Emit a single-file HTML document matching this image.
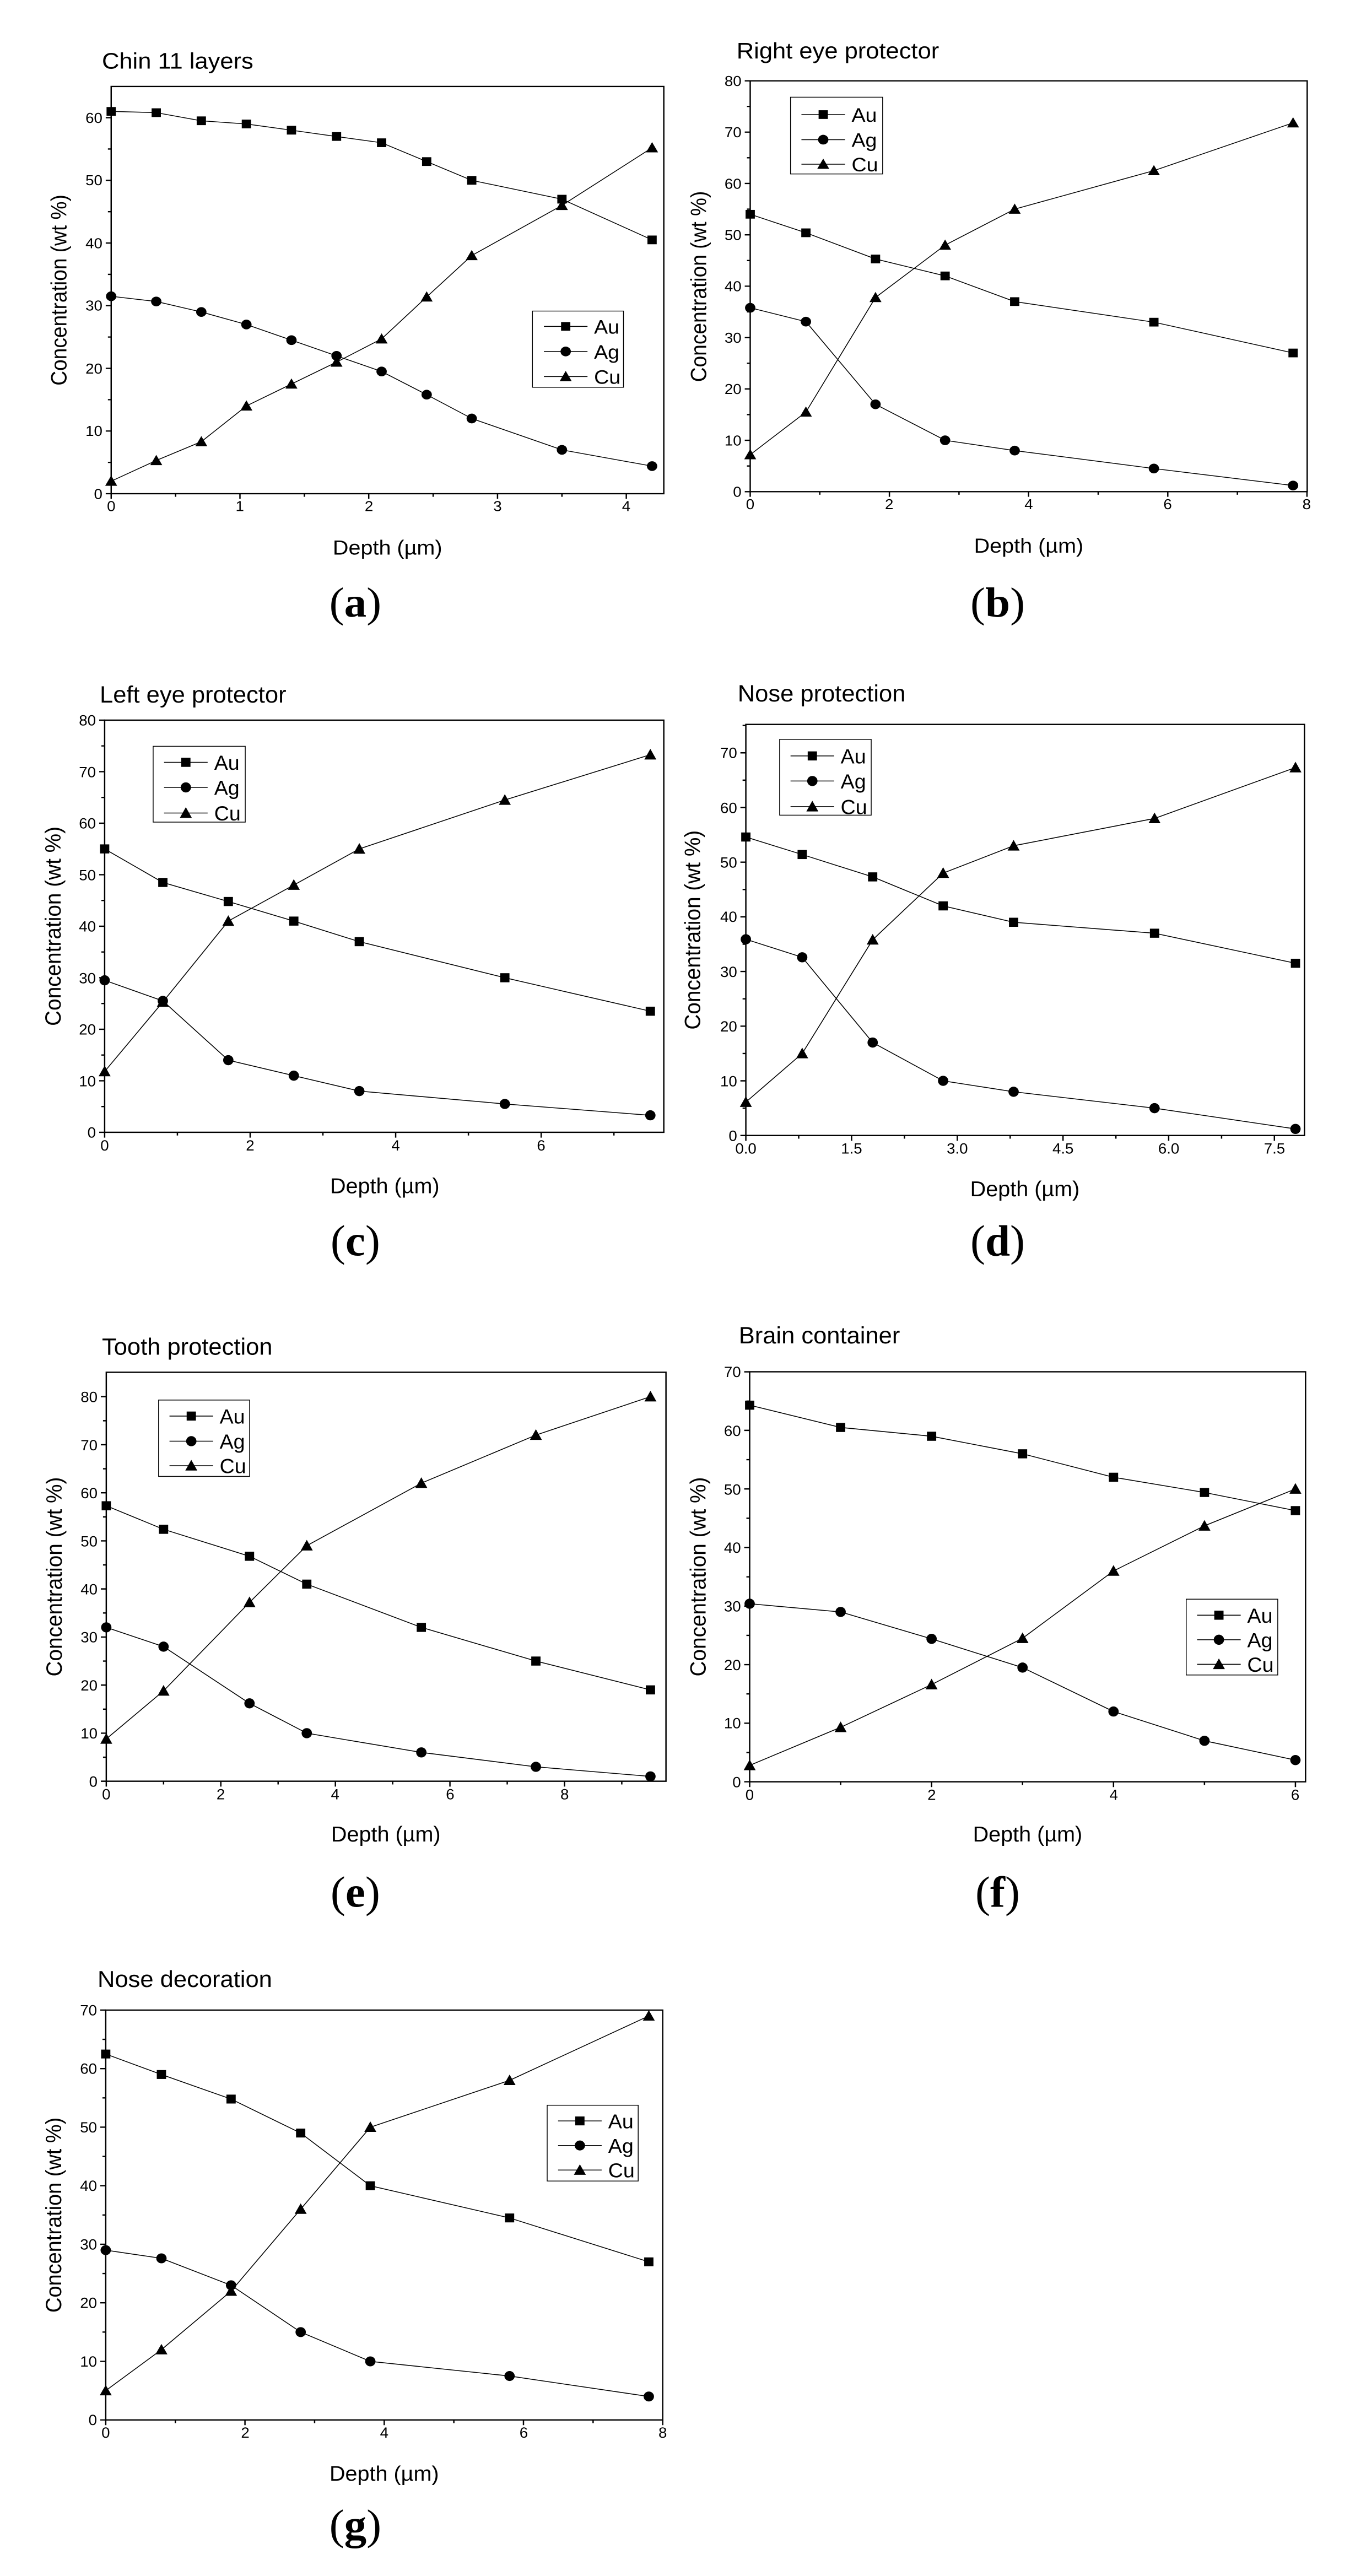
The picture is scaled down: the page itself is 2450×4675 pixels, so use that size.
<!DOCTYPE html>
<html><head><meta charset="utf-8"><style>
html,body{margin:0;padding:0;background:#fff}
svg{display:block}
text{font-family:"Liberation Sans",sans-serif;fill:#000}
.tk{font-size:28px}
.ax{font-size:40px}
.tt{font-size:44px}
.lg{font-size:38px}
.sl{font-family:"Liberation Serif",serif;font-size:82px}
.fr{fill:none;stroke:#000;stroke-width:2.5}
.tks{fill:none;stroke:#000;stroke-width:2.5}
.ln{fill:none;stroke:#000;stroke-width:1.6}
</style></head><body>
<svg width="2450" height="4675" viewBox="0 0 2450 4675" xmlns="http://www.w3.org/2000/svg">
<defs>
<rect id="s" x="-8.5" y="-8.5" width="17" height="17" fill="#000"/>
<circle id="c" r="9.5" fill="#000"/>
<polygon id="t" points="0,-11 11,9 -11,9" fill="#000"/>
</defs>

<!-- ===== Panel a ===== -->
<g transform="translate(0,0) scale(0.98906,0.92849) translate(0,0)">
<text class="tt" x="187" y="134">Chin 11 layers</text>
<rect class="fr" x="204" y="169" width="1014" height="796"/>
<path class="tks" d="M204 965h-10M204 842.5h-10M204 720h-10M204 597.5h-10M204 475h-10M204 352.5h-10M204 230h-10M204 903.75h-6M204 781.25h-6M204 658.75h-6M204 536.25h-6M204 413.75h-6M204 291.25h-6M204 965v10M440.3 965v10M676.6 965v10M912.9 965v10M1149.2 965v10M322.2 965v6M558.5 965v6M794.8 965v6M1031.1 965v6"/>
<g class="tk" text-anchor="end"><text x="188" y="975">0</text><text x="188" y="852">10</text><text x="188" y="730">20</text><text x="188" y="607">30</text><text x="188" y="485">40</text><text x="188" y="362">50</text><text x="188" y="240">60</text></g>
<g class="tk" text-anchor="middle"><text x="204" y="999">0</text><text x="440" y="999">1</text><text x="677" y="999">2</text><text x="913" y="999">3</text><text x="1149" y="999">4</text></g>
<text class="ax" text-anchor="middle" x="711" y="1084">Depth (µm)</text>
<text class="ax" text-anchor="middle" transform="translate(122,567) rotate(-90)">Concentration (wt %)</text>
<polyline class="ln" points="204,217.7 286.7,220.2 369.4,236.1 452.1,242.3 534.8,254.5 617.5,266.8 700.2,279 782.9,315.8 865.6,352.5 1031.1,389.3 1196.5,468.9"/>
<polyline class="ln" points="204,579.1 286.7,589.3 369.4,609.8 452.1,634.3 534.8,664.9 617.5,695.5 700.2,726.1 782.9,771.4 865.6,818 1031.1,879.3 1196.5,911.1"/>
<polyline class="ln" points="204,940.5 286.7,900.1 369.4,863.3 452.1,793.5 534.8,750.6 617.5,707.8 700.2,662.4 782.9,580.4 865.6,499.5 1031.1,401.5 1196.5,288.8"/>
<use href="#s" x="204" y="217.7"/><use href="#s" x="286.7" y="220.2"/><use href="#s" x="369.4" y="236.1"/><use href="#s" x="452.1" y="242.3"/><use href="#s" x="534.8" y="254.5"/><use href="#s" x="617.5" y="266.8"/><use href="#s" x="700.2" y="279"/><use href="#s" x="782.9" y="315.8"/><use href="#s" x="865.6" y="352.5"/><use href="#s" x="1031.1" y="389.3"/><use href="#s" x="1196.5" y="468.9"/>
<use href="#c" x="204" y="579.1"/><use href="#c" x="286.7" y="589.3"/><use href="#c" x="369.4" y="609.8"/><use href="#c" x="452.1" y="634.3"/><use href="#c" x="534.8" y="664.9"/><use href="#c" x="617.5" y="695.5"/><use href="#c" x="700.2" y="726.1"/><use href="#c" x="782.9" y="771.4"/><use href="#c" x="865.6" y="818"/><use href="#c" x="1031.1" y="879.3"/><use href="#c" x="1196.5" y="911.1"/>
<use href="#t" x="204" y="940.5"/><use href="#t" x="286.7" y="900.1"/><use href="#t" x="369.4" y="863.3"/><use href="#t" x="452.1" y="793.5"/><use href="#t" x="534.8" y="750.6"/><use href="#t" x="617.5" y="707.8"/><use href="#t" x="700.2" y="662.4"/><use href="#t" x="782.9" y="580.4"/><use href="#t" x="865.6" y="499.5"/><use href="#t" x="1031.1" y="401.5"/><use href="#t" x="1196.5" y="288.8"/>
<rect x="977" y="608" width="167" height="149" fill="#fff" stroke="#000" stroke-width="1.5"/>
<path class="ln" d="M998 638h80M998 687h80M998 736h80"/>
<use href="#s" x="1038" y="638"/><use href="#c" x="1038" y="687"/><use href="#t" x="1038" y="736"/>
<g class="lg"><text x="1090" y="652">Au</text><text x="1090" y="701">Ag</text><text x="1090" y="750">Cu</text></g>
<text class="sl" text-anchor="middle" x="652" y="1205">(<tspan font-weight="bold">a</tspan>)</text>
</g>

<!-- ===== Panel b ===== -->
<g transform="translate(1225,0) scale(0.98906,0.92849) translate(-1225,0)">
<text class="tt" x="1338" y="114">Right eye protector</text>
<rect class="fr" x="1363" y="158" width="1022" height="803"/>
<path class="tks" d="M1363 961h-10M1363 860.6h-10M1363 760.2h-10M1363 659.8h-10M1363 559.4h-10M1363 459h-10M1363 358.6h-10M1363 258.2h-10M1363 158h-10M1363 910.8h-6M1363 810.4h-6M1363 710h-6M1363 609.6h-6M1363 509.2h-6M1363 408.8h-6M1363 308.4h-6M1363 208h-6M1363 961v10M1618.4 961v10M1873.8 961v10M2129.2 961v10M2384.6 961v10M1490.7 961v6M1746.1 961v6M2001.5 961v6M2256.9 961v6"/>
<g class="tk" text-anchor="end"><text x="1347" y="971">0</text><text x="1347" y="871">10</text><text x="1347" y="770">20</text><text x="1347" y="670">30</text><text x="1347" y="569">40</text><text x="1347" y="469">50</text><text x="1347" y="369">60</text><text x="1347" y="268">70</text><text x="1347" y="168">80</text></g>
<g class="tk" text-anchor="middle"><text x="1363" y="995">0</text><text x="1618" y="995">2</text><text x="1874" y="995">4</text><text x="2129" y="995">6</text><text x="2384" y="995">8</text></g>
<text class="ax" text-anchor="middle" x="1874" y="1080">Depth (µm)</text>
<text class="ax" text-anchor="middle" transform="translate(1282,560) rotate(-90)">Concentration (wt %)</text>
<polyline class="ln" points="1363,418.8 1465.2,455 1592.9,506.2 1720.6,539.3 1848.3,589.5 2103.7,629.7 2359.1,689.9"/>
<polyline class="ln" points="1363,601.6 1465.2,628.7 1592.9,790.3 1720.6,860.6 1848.3,880.7 2103.7,915.8 2359.1,949"/>
<polyline class="ln" points="1363,888.7 1465.2,805.4 1592.9,581.5 1720.6,479.1 1848.3,408.8 2103.7,333.5 2359.1,240.1"/>
<use href="#s" x="1363" y="418.8"/><use href="#s" x="1465.2" y="455"/><use href="#s" x="1592.9" y="506.2"/><use href="#s" x="1720.6" y="539.3"/><use href="#s" x="1848.3" y="589.5"/><use href="#s" x="2103.7" y="629.7"/><use href="#s" x="2359.1" y="689.9"/>
<use href="#c" x="1363" y="601.6"/><use href="#c" x="1465.2" y="628.7"/><use href="#c" x="1592.9" y="790.3"/><use href="#c" x="1720.6" y="860.6"/><use href="#c" x="1848.3" y="880.7"/><use href="#c" x="2103.7" y="915.8"/><use href="#c" x="2359.1" y="949"/>
<use href="#t" x="1363" y="888.7"/><use href="#t" x="1465.2" y="805.4"/><use href="#t" x="1592.9" y="581.5"/><use href="#t" x="1720.6" y="479.1"/><use href="#t" x="1848.3" y="408.8"/><use href="#t" x="2103.7" y="333.5"/><use href="#t" x="2359.1" y="240.1"/>
<rect x="1437" y="190" width="169" height="150" fill="#fff" stroke="#000" stroke-width="1.5"/>
<path class="ln" d="M1457 224h80M1457 273h80M1457 321h80"/>
<use href="#s" x="1497" y="224"/><use href="#c" x="1497" y="273"/><use href="#t" x="1497" y="321"/>
<g class="lg"><text x="1549" y="238">Au</text><text x="1549" y="287">Ag</text><text x="1549" y="335">Cu</text></g>
<text class="sl" text-anchor="middle" x="1817" y="1205">(<tspan font-weight="bold">b</tspan>)</text>
</g>

<!-- ===== Panel c ===== -->
<g transform="translate(0,1150) scale(0.98906,0.96886) translate(0,-1150)">
<text class="tt" x="183" y="1279">Left eye protector</text>
<rect class="fr" x="192" y="1312" width="1026" height="772"/>
<path class="tks" d="M192 2084h-10M192 1987.5h-10M192 1891h-10M192 1794.5h-10M192 1698h-10M192 1601.5h-10M192 1505h-10M192 1408.5h-10M192 1312h-10M192 2035.75h-6M192 1939.25h-6M192 1842.75h-6M192 1746.25h-6M192 1649.75h-6M192 1553.25h-6M192 1456.75h-6M192 1360.25h-6M192 2084v10M459 2084v10M726 2084v10M993 2084v10M325.5 2084v6M592.5 2084v6M859.5 2084v6M1126.5 2084v6"/>
<g class="tk" text-anchor="end"><text x="176" y="2094">0</text><text x="176" y="1998">10</text><text x="176" y="1901">20</text><text x="176" y="1805">30</text><text x="176" y="1708">40</text><text x="176" y="1612">50</text><text x="176" y="1515">60</text><text x="176" y="1419">70</text><text x="176" y="1322">80</text></g>
<g class="tk" text-anchor="middle"><text x="192" y="2118">0</text><text x="459" y="2118">2</text><text x="726" y="2118">4</text><text x="993" y="2118">6</text></g>
<text class="ax" text-anchor="middle" x="706" y="2198">Depth (µm)</text>
<text class="ax" text-anchor="middle" transform="translate(111,1698) rotate(-90)">Concentration (wt %)</text>
<polyline class="ln" points="192,1553.2 298.8,1616 418.9,1651.7 539.1,1688.4 659.3,1726.9 926.3,1794.5 1193.3,1857.2"/>
<polyline class="ln" points="192,1799.3 298.8,1837.9 418.9,1948.9 539.1,1977.9 659.3,2006.8 926.3,2030.9 1193.3,2052.2"/>
<polyline class="ln" points="192,1970.1 298.8,1839.9 418.9,1688.4 539.1,1620.8 659.3,1553.2 926.3,1461.6 1193.3,1376.7"/>
<use href="#s" x="192" y="1553.2"/><use href="#s" x="298.8" y="1616"/><use href="#s" x="418.9" y="1651.7"/><use href="#s" x="539.1" y="1688.4"/><use href="#s" x="659.3" y="1726.9"/><use href="#s" x="926.3" y="1794.5"/><use href="#s" x="1193.3" y="1857.2"/>
<use href="#c" x="192" y="1799.3"/><use href="#c" x="298.8" y="1837.9"/><use href="#c" x="418.9" y="1948.9"/><use href="#c" x="539.1" y="1977.9"/><use href="#c" x="659.3" y="2006.8"/><use href="#c" x="926.3" y="2030.9"/><use href="#c" x="1193.3" y="2052.2"/>
<use href="#t" x="192" y="1970.1"/><use href="#t" x="298.8" y="1839.9"/><use href="#t" x="418.9" y="1688.4"/><use href="#t" x="539.1" y="1620.8"/><use href="#t" x="659.3" y="1553.2"/><use href="#t" x="926.3" y="1461.6"/><use href="#t" x="1193.3" y="1376.7"/>
<rect x="281" y="1361" width="169" height="142" fill="#fff" stroke="#000" stroke-width="1.5"/>
<path class="ln" d="M301 1391h80M301 1438h80M301 1486h80"/>
<use href="#s" x="341" y="1391"/><use href="#c" x="341" y="1438"/><use href="#t" x="341" y="1486"/>
<g class="lg"><text x="393" y="1405">Au</text><text x="393" y="1452">Ag</text><text x="393" y="1500">Cu</text></g>
<text class="sl" text-anchor="middle" x="652" y="2315">(<tspan font-weight="bold">c</tspan>)</text>
</g>

<!-- ===== Panel d ===== -->
<g transform="translate(1225,1150) scale(0.98906,0.96886) translate(-1225,-1150)">
<text class="tt" x="1340" y="1277">Nose protection</text>
<rect class="fr" x="1355" y="1320" width="1025" height="770"/>
<path class="tks" d="M1355 2090h-10M1355 1987.6h-10M1355 1885.2h-10M1355 1782.8h-10M1355 1680.4h-10M1355 1578h-10M1355 1475.6h-10M1355 1373.2h-10M1355 2038.8h-6M1355 1936.4h-6M1355 1834h-6M1355 1731.6h-6M1355 1629.2h-6M1355 1526.8h-6M1355 1424.4h-6M1355 1322h-6M1355 2090v10M1549 2090v10M1743 2090v10M1937 2090v10M2130.8 2090v10M2324.8 2090v10M1452 2090v6M1646 2090v6M1840 2090v6M2034 2090v6M2227.9 2090v6"/>
<g class="tk" text-anchor="end"><text x="1339" y="2100">0</text><text x="1339" y="1998">10</text><text x="1339" y="1895">20</text><text x="1339" y="1793">30</text><text x="1339" y="1690">40</text><text x="1339" y="1588">50</text><text x="1339" y="1486">60</text><text x="1339" y="1383">70</text></g>
<g class="tk" text-anchor="middle"><text x="1355" y="2124">0.0</text><text x="1549" y="2124">1.5</text><text x="1743" y="2124">3.0</text><text x="1937" y="2124">4.5</text><text x="2131" y="2124">6.0</text><text x="2325" y="2124">7.5</text></g>
<text class="ax" text-anchor="middle" x="1867" y="2204">Depth (µm)</text>
<text class="ax" text-anchor="middle" transform="translate(1271,1705) rotate(-90)">Concentration (wt %)</text>
<polyline class="ln" points="1355,1530.9 1458.4,1563.7 1587.7,1605.6 1717,1659.9 1846.3,1690.6 2104.9,1711.1 2363.5,1767.4"/>
<polyline class="ln" points="1355,1722.4 1458.4,1756.2 1587.7,1915.9 1717,1987.6 1846.3,2008.1 2104.9,2038.8 2363.5,2077.7"/>
<polyline class="ln" points="1355,2027.5 1458.4,1936.4 1587.7,1723.4 1717,1598.5 1846.3,1547.3 2104.9,1496.1 2363.5,1400.8"/>
<use href="#s" x="1355" y="1530.9"/><use href="#s" x="1458.4" y="1563.7"/><use href="#s" x="1587.7" y="1605.6"/><use href="#s" x="1717" y="1659.9"/><use href="#s" x="1846.3" y="1690.6"/><use href="#s" x="2104.9" y="1711.1"/><use href="#s" x="2363.5" y="1767.4"/>
<use href="#c" x="1355" y="1722.4"/><use href="#c" x="1458.4" y="1756.2"/><use href="#c" x="1587.7" y="1915.9"/><use href="#c" x="1717" y="1987.6"/><use href="#c" x="1846.3" y="2008.1"/><use href="#c" x="2104.9" y="2038.8"/><use href="#c" x="2363.5" y="2077.7"/>
<use href="#t" x="1355" y="2027.5"/><use href="#t" x="1458.4" y="1936.4"/><use href="#t" x="1587.7" y="1723.4"/><use href="#t" x="1717" y="1598.5"/><use href="#t" x="1846.3" y="1547.3"/><use href="#t" x="2104.9" y="1496.1"/><use href="#t" x="2363.5" y="1400.8"/>
<rect x="1417" y="1348" width="168" height="142" fill="#fff" stroke="#000" stroke-width="1.5"/>
<path class="ln" d="M1437 1379h80M1437 1426h80M1437 1474h80"/>
<use href="#s" x="1477" y="1379"/><use href="#c" x="1477" y="1426"/><use href="#t" x="1477" y="1474"/>
<g class="lg"><text x="1529" y="1393">Au</text><text x="1529" y="1440">Ag</text><text x="1529" y="1488">Cu</text></g>
<text class="sl" text-anchor="middle" x="1817" y="2315">(<tspan font-weight="bold">d</tspan>)</text>
</g>

<!-- ===== Panel e ===== -->
<g transform="translate(0,2350) scale(0.98906,0.96886) translate(0,-2350)">
<text class="tt" x="187" y="2462">Tooth protection</text>
<rect class="fr" x="195" y="2495" width="1027" height="766"/>
<path class="tks" d="M195 3261h-10M195 3171h-10M195 3080.9h-10M195 2990.9h-10M195 2900.8h-10M195 2810.8h-10M195 2720.7h-10M195 2630.7h-10M195 2540.6h-10M195 3216h-6M195 3126h-6M195 3035.9h-6M195 2945.9h-6M195 2855.8h-6M195 2765.8h-6M195 2675.7h-6M195 2585.7h-6M195 3261v10M405.2 3261v10M615.4 3261v10M825.6 3261v10M1035.8 3261v10M300.1 3261v6M510.3 3261v6M720.5 3261v6M930.7 3261v6M1140.9 3261v6"/>
<g class="tk" text-anchor="end"><text x="179" y="3271">0</text><text x="179" y="3181">10</text><text x="179" y="3091">20</text><text x="179" y="3001">30</text><text x="179" y="2911">40</text><text x="179" y="2821">50</text><text x="179" y="2731">60</text><text x="179" y="2641">70</text><text x="179" y="2551">80</text></g>
<g class="tk" text-anchor="middle"><text x="195" y="3295">0</text><text x="405" y="3295">2</text><text x="615" y="3295">4</text><text x="826" y="3295">6</text><text x="1036" y="3295">8</text></g>
<text class="ax" text-anchor="middle" x="708" y="3374">Depth (µm)</text>
<text class="ax" text-anchor="middle" transform="translate(113,2878) rotate(-90)">Concentration (wt %)</text>
<polyline class="ln" points="195,2745 300.1,2789.1 457.8,2839.6 562.9,2891.8 773.1,2972.8 983.3,3035.9 1193.5,3089.9"/>
<polyline class="ln" points="195,2972.8 300.1,3008.9 457.8,3115.1 562.9,3171 773.1,3207 983.3,3234 1193.5,3252"/>
<polyline class="ln" points="195,3181.8 300.1,3091.7 457.8,2926 562.9,2819.8 773.1,2702.7 983.3,2612.6 1193.5,2540.6"/>
<use href="#s" x="195" y="2745"/><use href="#s" x="300.1" y="2789.1"/><use href="#s" x="457.8" y="2839.6"/><use href="#s" x="562.9" y="2891.8"/><use href="#s" x="773.1" y="2972.8"/><use href="#s" x="983.3" y="3035.9"/><use href="#s" x="1193.5" y="3089.9"/>
<use href="#c" x="195" y="2972.8"/><use href="#c" x="300.1" y="3008.9"/><use href="#c" x="457.8" y="3115.1"/><use href="#c" x="562.9" y="3171"/><use href="#c" x="773.1" y="3207"/><use href="#c" x="983.3" y="3234"/><use href="#c" x="1193.5" y="3252"/>
<use href="#t" x="195" y="3181.8"/><use href="#t" x="300.1" y="3091.7"/><use href="#t" x="457.8" y="2926"/><use href="#t" x="562.9" y="2819.8"/><use href="#t" x="773.1" y="2702.7"/><use href="#t" x="983.3" y="2612.6"/><use href="#t" x="1193.5" y="2540.6"/>
<rect x="291" y="2547" width="167" height="143" fill="#fff" stroke="#000" stroke-width="1.5"/>
<path class="ln" d="M311 2577h80M311 2624h80M311 2670h80"/>
<use href="#s" x="351" y="2577"/><use href="#c" x="351" y="2624"/><use href="#t" x="351" y="2670"/>
<g class="lg"><text x="403" y="2591">Au</text><text x="403" y="2638">Ag</text><text x="403" y="2684">Cu</text></g>
<text class="sl" text-anchor="middle" x="652" y="3496">(<tspan font-weight="bold">e</tspan>)</text>
</g>

<!-- ===== Panel f ===== -->
<g transform="translate(1225,2350) scale(0.98906,0.96886) translate(-1225,-2350)">
<text class="tt" x="1342" y="2441">Brain container</text>
<rect class="fr" x="1362" y="2494" width="1020" height="768"/>
<path class="tks" d="M1362 3262h-10M1362 3152.3h-10M1362 3042.6h-10M1362 2932.9h-10M1362 2823.2h-10M1362 2713.5h-10M1362 2603.8h-10M1362 2494.1h-10M1362 3207.2h-6M1362 3097.5h-6M1362 2987.8h-6M1362 2878.1h-6M1362 2768.4h-6M1362 2658.7h-6M1362 2549h-6M1362 3262v10M1695.8 3262v10M2029.6 3262v10M2363.4 3262v10M1528.9 3262v6M1862.7 3262v6M2196.5 3262v6"/>
<g class="tk" text-anchor="end"><text x="1346" y="3272">0</text><text x="1346" y="3162">10</text><text x="1346" y="3053">20</text><text x="1346" y="2943">30</text><text x="1346" y="2833">40</text><text x="1346" y="2724">50</text><text x="1346" y="2614">60</text><text x="1346" y="2504">70</text></g>
<g class="tk" text-anchor="middle"><text x="1362" y="3296">0</text><text x="1696" y="3296">2</text><text x="2030" y="3296">4</text><text x="2363" y="3296">6</text></g>
<text class="ax" text-anchor="middle" x="1872" y="3374">Depth (µm)</text>
<text class="ax" text-anchor="middle" transform="translate(1281,2878) rotate(-90)">Concentration (wt %)</text>
<polyline class="ln" points="1362,2556.6 1528.9,2598.3 1695.8,2614.8 1862.7,2647.7 2029.6,2691.6 2196.5,2720.1 2363.4,2754.1"/>
<polyline class="ln" points="1362,2928.5 1528.9,2943.9 1695.8,2994.3 1862.7,3048.1 2029.6,3130.4 2196.5,3185.2 2363.4,3221.4"/>
<polyline class="ln" points="1362,3231.3 1528.9,3160 1695.8,3079.9 1862.7,2993.2 2029.6,2867.1 2196.5,2782.6 2363.4,2713.5"/>
<use href="#s" x="1362" y="2556.6"/><use href="#s" x="1528.9" y="2598.3"/><use href="#s" x="1695.8" y="2614.8"/><use href="#s" x="1862.7" y="2647.7"/><use href="#s" x="2029.6" y="2691.6"/><use href="#s" x="2196.5" y="2720.1"/><use href="#s" x="2363.4" y="2754.1"/>
<use href="#c" x="1362" y="2928.5"/><use href="#c" x="1528.9" y="2943.9"/><use href="#c" x="1695.8" y="2994.3"/><use href="#c" x="1862.7" y="3048.1"/><use href="#c" x="2029.6" y="3130.4"/><use href="#c" x="2196.5" y="3185.2"/><use href="#c" x="2363.4" y="3221.4"/>
<use href="#t" x="1362" y="3231.3"/><use href="#t" x="1528.9" y="3160"/><use href="#t" x="1695.8" y="3079.9"/><use href="#t" x="1862.7" y="2993.2"/><use href="#t" x="2029.6" y="2867.1"/><use href="#t" x="2196.5" y="2782.6"/><use href="#t" x="2363.4" y="2713.5"/>
<rect x="2163" y="2920" width="168" height="142" fill="#fff" stroke="#000" stroke-width="1.5"/>
<path class="ln" d="M2183 2950h80M2183 2996h80M2183 3042h80"/>
<use href="#s" x="2223" y="2950"/><use href="#c" x="2223" y="2996"/><use href="#t" x="2223" y="3042"/>
<g class="lg"><text x="2275" y="2964">Au</text><text x="2275" y="3010">Ag</text><text x="2275" y="3056">Cu</text></g>
<text class="sl" text-anchor="middle" x="1817" y="3496">(<tspan font-weight="bold">f</tspan>)</text>
</g>

<!-- ===== Panel g ===== -->
<g transform="translate(0,3500) scale(0.98906,0.94867) translate(0,-3500)">
<text class="tt" x="179" y="3612">Nose decoration</text>
<rect class="fr" x="194" y="3656" width="1022" height="784"/>
<path class="tks" d="M194 4440h-10M194 4328h-10M194 4216h-10M194 4104h-10M194 3992h-10M194 3880h-10M194 3768h-10M194 3656h-10M194 4384h-6M194 4272h-6M194 4160h-6M194 4048h-6M194 3936h-6M194 3824h-6M194 3712h-6M194 4440v10M449.5 4440v10M705 4440v10M960.5 4440v10M1216 4440v10M321.75 4440v6M577.25 4440v6M832.75 4440v6M1088.25 4440v6"/>
<g class="tk" text-anchor="end"><text x="178" y="4450">0</text><text x="178" y="4338">10</text><text x="178" y="4226">20</text><text x="178" y="4114">30</text><text x="178" y="4002">40</text><text x="178" y="3890">50</text><text x="178" y="3778">60</text><text x="178" y="3666">70</text></g>
<g class="tk" text-anchor="middle"><text x="194" y="4474">0</text><text x="450" y="4474">2</text><text x="705" y="4474">4</text><text x="961" y="4474">6</text><text x="1216" y="4474">8</text></g>
<text class="ax" text-anchor="middle" x="705" y="4556">Depth (µm)</text>
<text class="ax" text-anchor="middle" transform="translate(112,4048) rotate(-90)">Concentration (wt %)</text>
<polyline class="ln" points="194,3740 296.2,3779.2 424,3826.2 551.7,3891.2 679.5,3992 935,4053.6 1190.5,4137.6"/>
<polyline class="ln" points="194,4115.2 296.2,4130.9 424,4182.4 551.7,4272 679.5,4328 935,4356 1190.5,4395.2"/>
<polyline class="ln" points="194,4384 296.2,4305.6 424,4193.6 551.7,4036.8 679.5,3880 935,3790.4 1190.5,3667.2"/>
<use href="#s" x="194" y="3740"/><use href="#s" x="296.2" y="3779.2"/><use href="#s" x="424" y="3826.2"/><use href="#s" x="551.7" y="3891.2"/><use href="#s" x="679.5" y="3992"/><use href="#s" x="935" y="4053.6"/><use href="#s" x="1190.5" y="4137.6"/>
<use href="#c" x="194" y="4115.2"/><use href="#c" x="296.2" y="4130.9"/><use href="#c" x="424" y="4182.4"/><use href="#c" x="551.7" y="4272"/><use href="#c" x="679.5" y="4328"/><use href="#c" x="935" y="4356"/><use href="#c" x="1190.5" y="4395.2"/>
<use href="#t" x="194" y="4384"/><use href="#t" x="296.2" y="4305.6"/><use href="#t" x="424" y="4193.6"/><use href="#t" x="551.7" y="4036.8"/><use href="#t" x="679.5" y="3880"/><use href="#t" x="935" y="3790.4"/><use href="#t" x="1190.5" y="3667.2"/>
<rect x="1004" y="3838" width="167" height="145" fill="#fff" stroke="#000" stroke-width="1.5"/>
<path class="ln" d="M1024 3868h80M1024 3915h80M1024 3962h80"/>
<use href="#s" x="1064" y="3868"/><use href="#c" x="1064" y="3915"/><use href="#t" x="1064" y="3962"/>
<g class="lg"><text x="1116" y="3882">Au</text><text x="1116" y="3929">Ag</text><text x="1116" y="3976">Cu</text></g>
<text class="sl" text-anchor="middle" x="652" y="4668">(<tspan font-weight="bold">g</tspan>)</text>
</g>
</svg>
</body></html>
